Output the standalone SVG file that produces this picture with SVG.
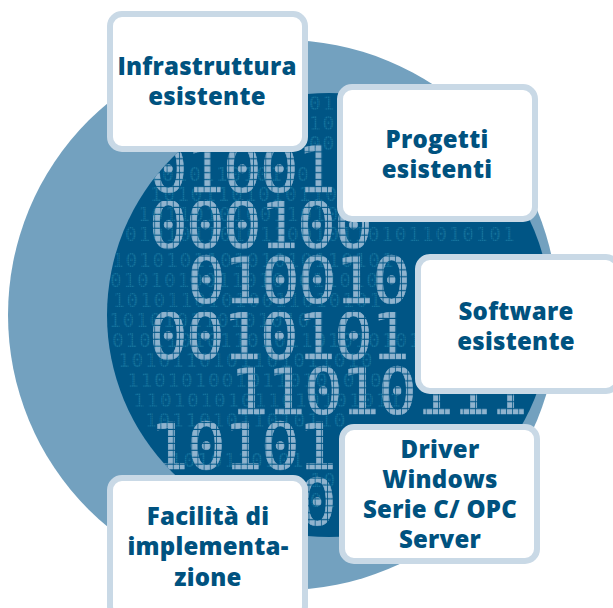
<svg xmlns="http://www.w3.org/2000/svg" width="613" height="608" viewBox="0 0 613 608">
<style>
.box{fill:#fff;stroke:#c9d9e6;stroke-width:6}
.lbl{font-family:"Open Sans","Lato",sans-serif;font-weight:800;font-size:24px;fill:#00527f;text-anchor:middle;letter-spacing:.25px}
.sm{font-family:"DejaVu Sans Mono",monospace;font-size:19.5px;letter-spacing:1.75px;fill:url(#smallDots)}
.big{font-family:"DejaVu Sans Mono",monospace;font-size:64px;letter-spacing:-1.5px;fill:url(#bigDots);stroke:url(#bigDots);stroke-width:.6px}
</style>
<defs>
<pattern id="bigDots" patternUnits="userSpaceOnUse" x="149" y="201" width="6.17" height="6.94"><rect width="5.4" height="5.8" fill="#8fb3ce"/></pattern>
<pattern id="smallDots" patternUnits="userSpaceOnUse" width="2.2" height="2.2"><rect width="1.7" height="1.7" fill="#14739d"/></pattern>
<clipPath id="inner"><circle cx="329" cy="315" r="222"/></clipPath>
</defs>
<g id="backdrop">
<circle cx="283" cy="315" r="275" fill="#73a1bf"/>
<circle cx="329" cy="315" r="222" fill="#005585"/>
<g clip-path="url(#inner)">
<g id="small-digits">
<text class="sm" x="309" y="110">01</text>
<text class="sm" x="309" y="130">10</text>
<text class="sm" x="309" y="150">00</text>
<text class="sm" x="135" y="181">1101011010110</text>
<text class="sm" x="150" y="201">10101101010110</text>
<text class="sm" x="138" y="221">101101010011010</text>
<text class="sm" x="125" y="241">01010110101100101101011010101</text>
<text class="sm" x="112" y="267">101010110101010110101</text>
<text class="sm" x="110" y="287">01010100110101011010</text>
<text class="sm" x="113" y="307">10101101010011010101</text>
<text class="sm" x="109" y="327">1010101101010101</text>
<text class="sm" x="112" y="347">01011010110101101010101</text>
<text class="sm" x="118" y="367">1010110101101011010</text>
<text class="sm" x="127" y="387">1101010010110101010</text>
<text class="sm" x="133" y="407">11010101011010101011</text>
<text class="sm" x="145" y="427">101101011010110</text>
<text class="sm" x="170" y="467">1010110101</text>
<text class="sm" x="310" y="487">10</text>
<text class="sm" x="310" y="507">01</text>
</g>
<g id="big-digits">
<text class="big" x="149" y="192">01001</text>
<text class="big" x="149" y="248">000100</text>
<text class="big" x="187" y="303">010010</text>
<text class="big" x="149" y="359">0010101</text>
<text class="big" x="230" y="414">11010111</text>
<text class="big" x="150" y="469">10101</text>
<text class="big" x="298" y="525">0</text>
</g>
</g>
</g>
<g id="connectors"/>
<g id="node-infrastruttura">
<rect class="box" x="110" y="14" width="195" height="135" rx="12"/>
<text class="lbl" x="207" y="75">Infrastruttura</text>
<text class="lbl" x="207" y="105">esistente</text>
</g>
<g id="node-progetti">
<rect class="box" x="340" y="87" width="195" height="132" rx="12"/>
<text class="lbl" x="437" y="148">Progetti</text>
<text class="lbl" x="437" y="178">esistenti</text>
</g>
<g id="node-software">
<rect class="box" x="418" y="257" width="200" height="134" rx="12"/>
<text class="lbl" x="516" y="320">Software</text>
<text class="lbl" x="516" y="350">esistente</text>
</g>
<g id="node-driver">
<rect class="box" x="342" y="427" width="195" height="134" rx="12"/>
<text class="lbl" x="440" y="458">Driver</text>
<text class="lbl" x="440" y="488">Windows</text>
<text class="lbl" x="440" y="518">Serie C/ OPC</text>
<text class="lbl" x="440" y="548">Server</text>
</g>
<g id="node-facilita">
<rect class="box" x="110" y="478" width="195" height="140" rx="12"/>
<text class="lbl" x="208" y="525">Facilità di</text>
<text class="lbl" x="208" y="555">implementa-</text>
<text class="lbl" x="208" y="586">zione</text>
</g>
</svg>
